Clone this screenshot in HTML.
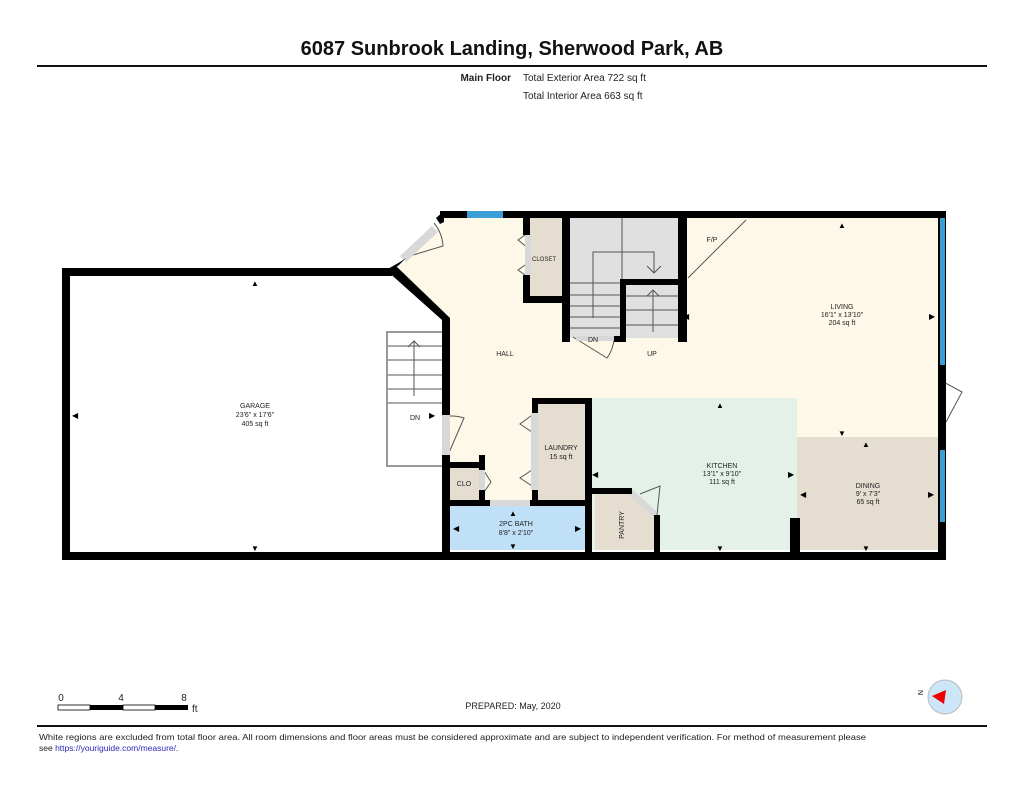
<!DOCTYPE html>
<html><head><meta charset="utf-8"><style>
html,body{margin:0;padding:0;background:#fff;}
body{width:1024px;height:791px;position:relative;overflow:hidden;font-family:"Liberation Sans",Arial,sans-serif;}
svg{position:absolute;left:0;top:0;}
</style></head><body>
<svg width="1024" height="791" viewBox="0 0 1024 791" font-family="Liberation Sans, Arial, sans-serif">
<text x="512" y="55" text-anchor="middle" font-size="20" font-weight="bold" fill="#111">6087 Sunbrook Landing, Sherwood Park, AB</text>
<rect x="37" y="65" width="950" height="2" fill="#111"/>
<text x="511" y="81" text-anchor="end" font-size="10" font-weight="bold" fill="#222">Main Floor</text>
<text x="523" y="81" font-size="10" fill="#222">Total Exterior Area 722 sq ft</text>
<text x="523" y="99" font-size="10" fill="#222">Total Interior Area 663 sq ft</text>

<!-- fills -->
<polygon points="444,216 942,216 942,437 797,437 797,398 590,398 590,403 538,403 538,500 485,500 485,465 450,465 450,320 398,268 444,222" fill="#fdf8e7"/>
<rect x="590" y="398" width="207" height="152" fill="#e4f1e8"/>
<rect x="797" y="437" width="145" height="113" fill="#e5ddd0"/>
<rect x="538" y="403" width="50" height="97" fill="#e5ddd0"/>
<rect x="530" y="218" width="35" height="80" fill="#e5ddd0"/>
<rect x="568" y="218" width="114" height="120" fill="#e0e0e0"/>
<rect x="450" y="468" width="30" height="32" fill="#e5ddd0"/>
<rect x="450" y="506" width="135" height="44" fill="#c0e0f7"/>
<polygon points="595,494 632,494 657,515 657,550 595,550" fill="#e5ddd0"/>

<!-- stairs lines -->
<g stroke="#555" stroke-width="1" fill="none">
<line x1="622" y1="218" x2="622" y2="279"/>
<line x1="568" y1="283" x2="620" y2="283"/><line x1="568" y1="295" x2="620" y2="295"/>
<line x1="568" y1="306" x2="620" y2="306"/><line x1="568" y1="317" x2="620" y2="317"/>
<line x1="568" y1="328" x2="620" y2="328"/>
<line x1="626" y1="296" x2="680" y2="296"/><line x1="626" y1="310" x2="680" y2="310"/>
<line x1="626" y1="325" x2="680" y2="325"/>
<polyline points="593,318 593,252 654,252 654,273"/>
<polyline points="647,266 654,273 661,266"/>
<line x1="653" y1="332" x2="653" y2="290"/><polyline points="647,296 653,290 659,296"/>
<polyline points="442,332 387,332 387,466 442,466" stroke="#999" stroke-width="2"/>
<line x1="388" y1="346" x2="442" y2="346"/><line x1="388" y1="360" x2="442" y2="360"/>
<line x1="388" y1="375" x2="442" y2="375"/><line x1="388" y1="389" x2="442" y2="389"/>
<line x1="388" y1="403" x2="442" y2="403"/>
<line x1="414" y1="396" x2="414" y2="341"/><polyline points="408,347 414,341 420,347"/>
<line x1="688" y1="278" x2="746" y2="220"/>
<path d="M403,258 L443,246 A40,40 0 0 0 434,223" />
<path d="M573,337 L607,358 A36,36 0 0 0 614,338"/>
<path d="M448,455 L464,418 A40,40 0 0 0 450,416"/>
<path d="M640,494 L660,486 L657,515"/>
<path d="M940,380 L962,392 L946,422"/>
<polyline points="528,233 518,240 528,248"/><polyline points="528,263 518,270 528,277"/>
<polyline points="535,413 520,424 535,434"/><polyline points="535,468 520,478 535,488"/>
<polyline points="484,471 491,482 484,492"/>
</g>
<g fill="#d8d8d8">
<polygon points="400,256 432,226 438,232 406,262"/>
<rect x="525" y="235" width="6" height="40"/>
<rect x="442" y="415" width="8" height="40"/>
<rect x="531" y="413" width="7" height="77"/>
<rect x="479" y="470" width="6" height="20"/>
<rect x="490" y="500" width="40" height="6"/>
<rect x="939" y="380" width="7" height="42"/>
<rect x="66" y="282" width="4" height="258"/>
<rect x="576" y="336" width="40" height="5"/>
<polygon points="632,489 657,512 653,517 628,494"/>
</g>

<g fill="#000">
<rect x="62" y="268" width="8" height="292"/>
<rect x="62" y="268" width="330" height="8"/>
<rect x="62" y="552" width="884" height="8"/>
<rect x="938" y="212" width="8" height="348"/>
<rect x="440" y="211" width="506" height="7"/>
<polygon points="386,270 396,266 450,318 450,326 442,326 442,320"/>
<rect x="442" y="318" width="8" height="97"/>
<rect x="442" y="455" width="8" height="105"/>
<polygon points="386,270 400,262 406,258 398,266"/>
<polygon points="436,218 444,211 444,222 440,224"/>
<rect x="523" y="218" width="7" height="17"/>
<rect x="523" y="275" width="7" height="27"/>
<rect x="523" y="296" width="47" height="7"/>
<rect x="562" y="218" width="8" height="124"/>
<rect x="678" y="218" width="9" height="124"/>
<rect x="620" y="279" width="67" height="6"/>
<rect x="620" y="279" width="6" height="63"/>
<rect x="614" y="336" width="12" height="6"/>
<rect x="532" y="398" width="60" height="6"/>
<rect x="532" y="398" width="6" height="15"/>
<rect x="532" y="490" width="6" height="16"/>
<rect x="585" y="398" width="7" height="162"/>
<rect x="442" y="500" width="48" height="6"/>
<rect x="530" y="500" width="62" height="6"/>
<rect x="442" y="462" width="43" height="6"/>
<rect x="479" y="455" width="6" height="15"/>
<rect x="479" y="490" width="6" height="16"/>
<rect x="592" y="488" width="40" height="6"/>
<rect x="654" y="515" width="6" height="45"/>
<rect x="790" y="518" width="10" height="42"/>
<rect x="938" y="422" width="8" height="28"/>
</g>
<rect x="467" y="211" width="36" height="7" fill="#3a9fd6"/>
<rect x="940" y="218" width="5" height="147" fill="#3a9fd6"/>
<rect x="940" y="450" width="5" height="72" fill="#3a9fd6"/>

<g fill="#000" font-size="8">
<text x="255" y="286" text-anchor="middle">▲</text><text x="255" y="551" text-anchor="middle">▼</text>
<text x="72" y="418">◀</text><text x="429" y="418">▶</text>
<text x="683" y="319">◀</text><text x="842" y="228" text-anchor="middle">▲</text>
<text x="842" y="436" text-anchor="middle">▼</text><text x="929" y="319">▶</text>
<text x="720" y="408" text-anchor="middle">▲</text><text x="720" y="551" text-anchor="middle">▼</text>
<text x="592" y="477">◀</text><text x="788" y="477">▶</text>
<text x="866" y="447" text-anchor="middle">▲</text><text x="866" y="551" text-anchor="middle">▼</text>
<text x="800" y="497">◀</text><text x="928" y="497">▶</text>
<text x="513" y="516" text-anchor="middle">▲</text><text x="513" y="549" text-anchor="middle">▼</text>
<text x="453" y="531">◀</text><text x="575" y="531">▶</text>
</g>

<g font-size="7" fill="#222" text-anchor="middle">
<text x="255" y="408">GARAGE</text><text x="255" y="417">23'6" x 17'6"</text><text x="255" y="426">405 sq ft</text>
<text x="415" y="420">DN</text>
<text x="505" y="356">HALL</text>
<text x="544" y="261" font-size="6">CLOSET</text>
<text x="593" y="342">DN</text><text x="652" y="356">UP</text>
<text x="712" y="242">F/P</text>
<text x="842" y="309">LIVING</text><text x="842" y="317">16'1" x 13'10"</text><text x="842" y="325">204 sq ft</text>
<text x="722" y="468">KITCHEN</text><text x="722" y="476">13'1" x 9'10"</text><text x="722" y="484">111 sq ft</text>
<text x="868" y="488">DINING</text><text x="868" y="496">9' x 7'3"</text><text x="868" y="504">65 sq ft</text>
<text x="561" y="450">LAUNDRY</text><text x="561" y="459">15 sq ft</text>
<text x="464" y="486">CLO</text>
<text x="516" y="526">2PC BATH</text><text x="516" y="535">8'8" x 2'10"</text>
<text transform="translate(624,525) rotate(-90)">PANTRY</text>
</g>

<g font-size="10" fill="#222">
<text x="61" y="701" text-anchor="middle">0</text><text x="121" y="701" text-anchor="middle">4</text><text x="184" y="701" text-anchor="middle">8</text>
<rect x="58" y="705" width="32" height="5" fill="#fff" stroke="#000" stroke-width="0.8"/>
<rect x="90" y="705" width="33" height="5" fill="#000"/>
<rect x="123" y="705" width="32" height="5" fill="#fff" stroke="#000" stroke-width="0.8"/>
<rect x="155" y="705" width="33" height="5" fill="#000"/>
<text x="192" y="712">ft</text>
<text x="513" y="709" text-anchor="middle" font-size="9">PREPARED: May, 2020</text>
</g>
<circle cx="945" cy="697" r="17" fill="#cde6f7" stroke="#bbb"/>
<polygon points="932,696 946,690 944,704" fill="#e00"/>
<text x="918" y="694" font-size="7" transform="rotate(90 920 692)">N</text>

<rect x="37" y="725" width="950" height="2" fill="#111"/>
<text x="39" y="740" font-size="8.5" fill="#222" textLength="827" lengthAdjust="spacingAndGlyphs">White regions are excluded from total floor area. All room dimensions and floor areas must be considered approximate and are subject to independent verification. For method of measurement please</text>
<text x="39" y="751" font-size="8.5" fill="#222">see <tspan fill="#2a2ab8">https://youriguide.com/measure/</tspan>.</text>
</svg>
</body></html>
